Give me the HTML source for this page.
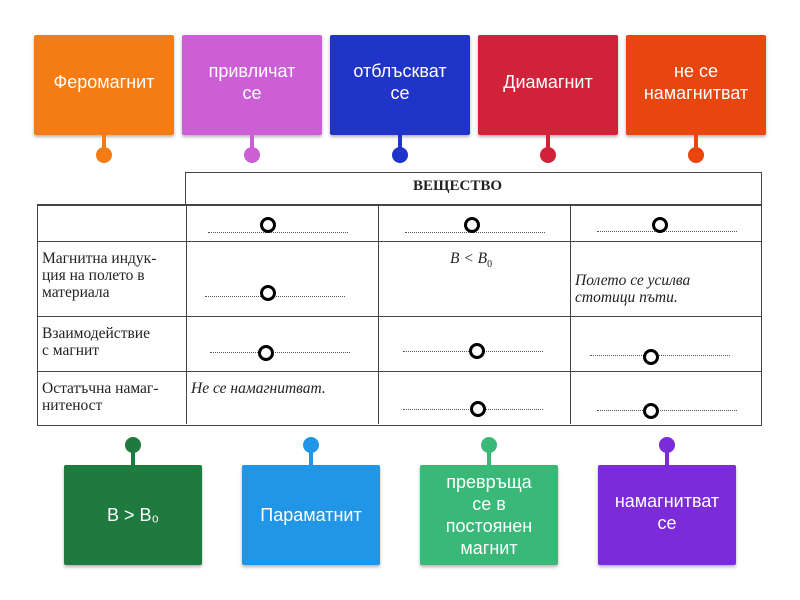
<!DOCTYPE html>
<html><head><meta charset="utf-8"><style>
body{margin:0;width:800px;height:600px;background:#fff;position:relative;overflow:hidden;font-family:"Liberation Sans",sans-serif}
.b{position:absolute;width:140px;height:100px;color:#fff;font-size:18px;line-height:22px;display:flex;align-items:center;justify-content:center;text-align:center;border-radius:2px;box-shadow:0 2px 3px rgba(0,0,0,.3)}
.b span{margin-top:-6px}
.s{position:absolute;width:4px;height:16px}
.d{position:absolute;width:16px;height:16px;border-radius:50%}
.t{position:absolute;font-family:"Liberation Serif",serif;font-size:15.5px;line-height:17px;color:#222}
.l{position:absolute;background:#444}
.c{position:absolute;width:10px;height:10px;border:3px solid #000;border-radius:50%;background:#fff}
.dot{position:absolute;border-top:1px dotted #555;height:0}
</style></head><body>
<div class="b" style="left:34px;top:35px;background:#f57c14"><span>Феромагнит</span></div>
<div class="b" style="left:182px;top:35px;background:#cc5fd6"><span>привличат<br>се</span></div>
<div class="b" style="left:330px;top:35px;background:#2134c8"><span>отблъскват<br>се</span></div>
<div class="b" style="left:478px;top:35px;background:#d0233a"><span>Диамагнит</span></div>
<div class="b" style="left:626px;top:35px;background:#e8450f"><span>не се<br>намагнитват</span></div>
<div class="s" style="left:102px;top:135px;background:#f57c14"></div><div class="d" style="left:96px;top:147px;background:#f57c14"></div>
<div class="s" style="left:250px;top:135px;background:#cc5fd6"></div><div class="d" style="left:244px;top:147px;background:#cc5fd6"></div>
<div class="s" style="left:398px;top:135px;background:#2134c8"></div><div class="d" style="left:392px;top:147px;background:#2134c8"></div>
<div class="s" style="left:546px;top:135px;background:#d0233a"></div><div class="d" style="left:540px;top:147px;background:#d0233a"></div>
<div class="s" style="left:694px;top:135px;background:#e8450f"></div><div class="d" style="left:688px;top:147px;background:#e8450f"></div>

<div style="position:absolute;left:185px;top:172px;width:575px;height:31px;border:1px solid #444"></div>
<div class="t" style="left:413px;top:178px;font-weight:bold;font-size:15px">ВЕЩЕСТВО</div>
<div style="position:absolute;left:37px;top:204px;width:723px;height:219px;border:1px solid #444;border-top:2px solid #444"></div>
<div class="l" style="left:186px;top:204px;width:1px;height:220px"></div>
<div class="l" style="left:378px;top:204px;width:1px;height:220px"></div>
<div class="l" style="left:570px;top:204px;width:1px;height:220px"></div>
<div class="l" style="left:37px;top:241px;width:725px;height:1px"></div>
<div class="l" style="left:37px;top:316px;width:725px;height:1px"></div>
<div class="l" style="left:37px;top:371px;width:725px;height:1px"></div>
<div class="t" style="left:42px;top:250px">Магнитна индук-<br>ция на полето в<br>материала</div>
<div class="t" style="left:42px;top:325px">Взаимодействие<br>с магнит</div>
<div class="t" style="left:42px;top:380px">Остатъчна намаг-<br>нитеност</div>
<div class="t" style="left:191px;top:380px;font-style:italic">Не се намагнитват.</div>
<div class="t" style="left:450px;top:250px;font-style:italic">B &lt; B<sub style="font-size:10px;font-style:normal">0</sub></div>
<div class="t" style="left:575px;top:272px;font-style:italic">Полето се усилва<br>стотици пъти.</div>
<div class="dot" style="left:208px;top:232px;width:140px"></div>
<div class="dot" style="left:405px;top:232px;width:140px"></div>
<div class="dot" style="left:597px;top:231px;width:140px"></div>
<div class="dot" style="left:205px;top:296px;width:140px"></div>
<div class="dot" style="left:210px;top:352px;width:140px"></div>
<div class="dot" style="left:403px;top:351px;width:140px"></div>
<div class="dot" style="left:590px;top:355px;width:140px"></div>
<div class="dot" style="left:403px;top:409px;width:140px"></div>
<div class="dot" style="left:597px;top:410px;width:140px"></div>
<div class="c" style="left:260px;top:217px"></div>
<div class="c" style="left:464px;top:217px"></div>
<div class="c" style="left:652px;top:217px"></div>
<div class="c" style="left:260px;top:285px"></div>
<div class="c" style="left:258px;top:345px"></div>
<div class="c" style="left:469px;top:343px"></div>
<div class="c" style="left:643px;top:349px"></div>
<div class="c" style="left:470px;top:401px"></div>
<div class="c" style="left:643px;top:403px"></div>

<div class="d" style="left:125px;top:437px;background:#1f7a40"></div><div class="s" style="left:131px;top:450px;background:#1f7a40"></div>
<div class="d" style="left:303px;top:437px;background:#2196e6"></div><div class="s" style="left:309px;top:450px;background:#2196e6"></div>
<div class="d" style="left:481px;top:437px;background:#3ab878"></div><div class="s" style="left:487px;top:450px;background:#3ab878"></div>
<div class="d" style="left:659px;top:437px;background:#7b2bd8"></div><div class="s" style="left:665px;top:450px;background:#7b2bd8"></div>
<div class="b" style="left:64px;top:465px;width:138px;background:#1f7a40">B &gt; B₀</div>
<div class="b" style="left:242px;top:465px;width:138px;background:#2196e6">Параматнит</div>
<div class="b" style="left:420px;top:465px;width:138px;background:#3ab878">превръща<br>се в<br>постоянен<br>магнит</div>
<div class="b" style="left:598px;top:465px;width:138px;background:#7b2bd8"><span>намагнитват<br>се</span></div>
</body></html>
